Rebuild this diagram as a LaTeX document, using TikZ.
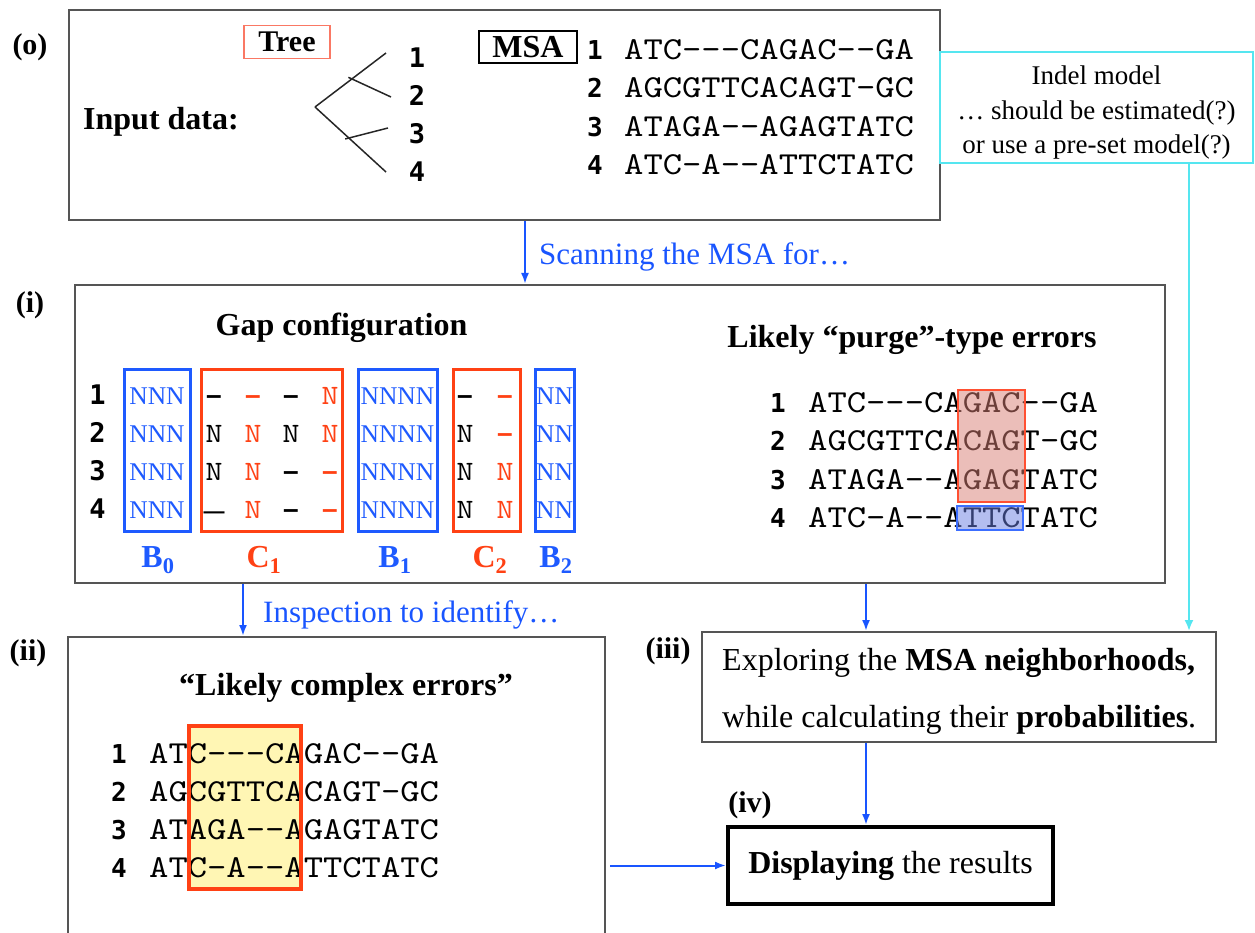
\documentclass[tikz,border=0pt]{standalone}
\usepackage{fontspec}
\setmainfont{Liberation Serif}
\setmonofont{lmmono10-regular.otf}[FakeStretch=1.15]
\newfontfamily\numfont{DejaVu Sans Mono}
\newfontfamily\dashfont{Liberation Sans}
\usetikzlibrary{arrows.meta}

\definecolor{flowblue}{RGB}{25,85,255}
\definecolor{gapblue}{RGB}{30,90,255}
\definecolor{gapred}{RGB}{255,65,20}
\definecolor{treered}{RGB}{250,120,100}
\definecolor{indelcyan}{RGB}{85,230,240}
\definecolor{framegray}{RGB}{85,85,85}
\definecolor{hlred}{RGB}{215,125,115}
\definecolor{hlredline}{RGB}{255,80,50}
\definecolor{hlblue}{RGB}{105,125,225}
\definecolor{hlblueline}{RGB}{60,110,255}
\definecolor{paleyellow}{RGB}{255,246,180}

% gap marks inside the C blocks
\newcommand\gapdash{{\dashfont\bfseries –}}
\newcommand\gaplongdash{{\dashfont\bfseries\fontsize{21}{21}\selectfont —}}

\begin{document}
\begin{tikzpicture}[x=1pt,y=-1pt,
  panel/.style={draw=framegray, line width=2pt, inner sep=0pt},
  flow/.style={draw=flowblue, line width=2pt, -{Latex[length=11pt,width=8pt]}},
  cyanflow/.style={draw=indelcyan, line width=2pt, -{Latex[length=11pt,width=9pt]}},
  treeline/.style={draw=black!85, line width=1.5pt},
  seq/.style={font=\ttfamily\fontsize{32}{38}\selectfont, inner sep=0pt, anchor=base west},
  rownum/.style={font=\numfont\bfseries\fontsize{26}{30}\selectfont, inner sep=0pt, anchor=base},
  head/.style={font=\bfseries\fontsize{32}{38}\selectfont, inner sep=0pt, anchor=base},
  tag/.style={font=\bfseries\fontsize{30}{36}\selectfont, inner sep=0pt},
  note/.style={font=\fontsize{31}{36}\selectfont, text=flowblue, inner sep=0pt, anchor=base west},
  bcell/.style={font=\fontsize{25.5}{30}\selectfont, text=gapblue, inner sep=0pt, anchor=base},
  ccell/.style={font=\ttfamily\fontsize{28}{30}\selectfont, inner sep=0pt, anchor=base},
  bblock/.style={draw=gapblue, line width=3pt, inner sep=0pt, minimum height=162pt},
  cblock/.style={draw=gapred, line width=3pt, inner sep=0pt, minimum height=162pt},
  blabel/.style={font=\bfseries\fontsize{32}{38}\selectfont, inner sep=0pt, anchor=base}
]
\useasboundingbox (0,0) rectangle (1255,933);

% ---------------- (o) input data ----------------
\node[panel, minimum width=871pt, minimum height=210pt] (input) at (504.5,115) {};
\node[tag] (lo) at (30,47) {(o)};
\node[head, anchor=base west] (inlabel) at (83,130) {Input data:};
\node[draw=treered, line width=1.5pt, minimum width=86pt, minimum height=33pt, inner sep=0pt,
      font=\bfseries\fontsize{30}{36}\selectfont] (treebox) at (287,42) {Tree};

% guide tree
\coordinate (root) at (315,107);
\coordinate (up) at (352,79);
\coordinate (lo4) at (349,138);
\coordinate (t1) at (386,53);
\coordinate (t2) at (391,97);
\coordinate (t3) at (388,128);
\coordinate (t4) at (386,172);
\draw[treeline] (root) -- (t1);
\draw[treeline] (root) -- (t4);
\draw[treeline, shorten <=-4pt] (up) -- (t2);
\draw[treeline, shorten <=-4pt] (lo4) -- (t3);
\foreach \i/\y in {1/68,2/106,3/144,4/182}
  \node[rownum, font=\numfont\bfseries\fontsize{27}{30}\selectfont] (leaf\i) at (417,\y) {\i};

% alignment
\node[draw=black, line width=1.5pt, minimum width=98pt, minimum height=32pt, inner sep=0pt,
      font=\bfseries\fontsize{32}{38}\selectfont] (msabox) at (528,47) {MSA};
\foreach \i/\y/\s in {1/60/ATC---CAGAC--GA, 2/98/AGCGTTCACAGT-GC, 3/137/ATAGA--AGAGTATC, 4/175/ATC-A--ATTCTATC} {
  \node[rownum] (msanum\i) at (595,\y) {\i};
  \node[seq] (msaseq\i) at (624,\y) {\s};
}

% indel model note
\node[draw=indelcyan, line width=2pt, minimum width=313pt, minimum height=111pt, inner sep=0pt] (indel) at (1096.5,107.5) {};
\node[anchor=north, inner sep=0pt, align=center, font=\fontsize{27}{34.5}\selectfont] (indeltext) at (1096.5,66)
  {Indel model\\… should be estimated(?)\\or use a pre-set model(?)};

% ---------------- (i) scanning ----------------
\node[panel, minimum width=1090pt, minimum height=298pt] (scan) at (620,434) {};
\node[tag] (li) at (30,305) {(i)};
\coordinate (scanx) at (525,0);
\draw[flow] (input.south -| scanx) -- (scan.north -| scanx);
\node[note] (scannote) at (539,265) {Scanning the MSA for…};

\node[head] (gaphead) at (341.5,335) {Gap configuration};
\node[bblock, minimum width=66pt] (b0) at (157,450) {};
\node[cblock, minimum width=141pt] (c1) at (271.5,450) {};
\node[bblock, minimum width=79pt] (b1) at (397.5,450) {};
\node[cblock, minimum width=67pt] (c2) at (486.5,450) {};
\node[bblock, minimum width=39pt] (b2) at (554.5,450) {};
\foreach \i/\y in {1/404,2/442,3/480,4/518} {
  \node[rownum, font=\numfont\bfseries\fontsize{27}{30}\selectfont] (gapnum\i) at (97.5,\y) {\i};
  \node[bcell] (b0r\i) at (157,\y) {NNN};
  \node[bcell] (b1r\i) at (397.5,\y) {NNNN};
  \node[bcell] (b2r\i) at (554.5,\y) {NN};
}
\foreach \x/\y/\c/\t [count=\k] in {
  214/404/black/\gapdash, 253/404/gapred/\gapdash, 291/404/black/\gapdash, 330/404/gapred/N,
  214/442/black/N, 253/442/gapred/N, 291/442/black/N, 330/442/gapred/N,
  214/480/black/N, 253/480/gapred/N, 291/480/black/\gapdash, 330/480/gapred/\gapdash,
  214/518/black/\gaplongdash, 253/518/gapred/N, 291/518/black/\gapdash, 330/518/gapred/\gapdash,
  465/404/black/\gapdash, 505/404/gapred/\gapdash,
  465/442/black/N, 505/442/gapred/\gapdash,
  465/480/black/N, 505/480/gapred/N,
  465/518/black/N, 505/518/gapred/N}
  \node[ccell, text=\c] (ccell\k) at (\x,\y) {\t};
\node[blabel, text=gapblue] (lb0) at (158,567) {B\textsubscript{0}};
\node[blabel, text=gapred] (lc1) at (264,567) {C\textsubscript{1}};
\node[blabel, text=gapblue] (lb1) at (395,567) {B\textsubscript{1}};
\node[blabel, text=gapred] (lc2) at (490,567) {C\textsubscript{2}};
\node[blabel, text=gapblue] (lb2) at (556,567) {B\textsubscript{2}};

% likely purge-type errors
\node[head] (purgehead) at (912,347) {Likely “purge”-type errors};
\foreach \i/\y/\s in {1/412/ATC---CAGAC--GA, 2/450/AGCGTTCACAGT-GC, 3/489/ATAGA--AGAGTATC, 4/527/ATC-A--ATTCTATC} {
  \node[rownum] (purgenum\i) at (778,\y) {\i};
  \node[seq] (purgeseq\i) at (808,\y) {\s};
}
\fill[hlred, fill opacity=0.5] (958,390) rectangle (1025,502);
\draw[hlredline, line width=1.5pt] (958,390) rectangle (1025,502);
\fill[hlblue, fill opacity=0.5] (957,506) rectangle (1023,530);
\draw[hlblueline, line width=1.5pt] (957,506) rectangle (1023,530);

% ---------------- (ii) complex errors ----------------
\node[panel, minimum width=537pt, minimum height=380pt] (complex) at (336.5,827) {};
\node[tag] (lii) at (28,653) {(ii)};
\coordinate (inspx) at (243,0);
\draw[flow] (scan.south -| inspx) -- (complex.north -| inspx);
\node[note] (inspnote) at (263,622) {Inspection to identify…};

\node[head] (cxhead) at (346,695) {“Likely complex errors”};
\fill[paleyellow] (189,726) rectangle (301,889);
\foreach \i/\y/\s in {1/763/ATC---CAGAC--GA, 2/801/AGCGTTCACAGT-GC, 3/839/ATAGA--AGAGTATC, 4/877/ATC-A--ATTCTATC} {
  \node[rownum] (cxnum\i) at (119,\y) {\i};
  \node[seq] (cxseq\i) at (149,\y) {\s};
}
\draw[gapred, line width=3.5pt] (189,726) rectangle (301,889);

% ---------------- (iii) neighbourhood exploration ----------------
\node[panel, minimum width=514pt, minimum height=110pt] (explore) at (959,687) {};
\node[anchor=north west, inner sep=0pt, align=left, font=\fontsize{32}{57}\selectfont] (exploretext) at (722,648)
  {Exploring the \textbf{MSA neighborhoods,}\\while calculating their \textbf{probabilities}.};
\node[tag] (liii) at (668,651) {(iii)};
\coordinate (midx) at (866,0);
\draw[flow] (scan.south -| midx) -- (explore.north -| midx);
\coordinate (cyx) at (1189,0);
\draw[cyanflow] (indel.south -| cyx) -- (explore.north -| cyx);

% ---------------- (iv) results ----------------
\node[draw=black, line width=4pt, minimum width=325pt, minimum height=77pt, inner sep=0pt,
      font=\fontsize{32}{38}\selectfont] (display) at (890.5,865.5) {\textbf{Displaying} the results};
\node[tag] (liv) at (750,805) {(iv)};
\draw[flow] (explore.south -| midx) -- (display.north -| midx);
\coordinate (cxright) at ([xshift=4pt]complex.east);
\draw[flow] (cxright |- display.west) -- (display.west);
\end{tikzpicture}
\end{document}
